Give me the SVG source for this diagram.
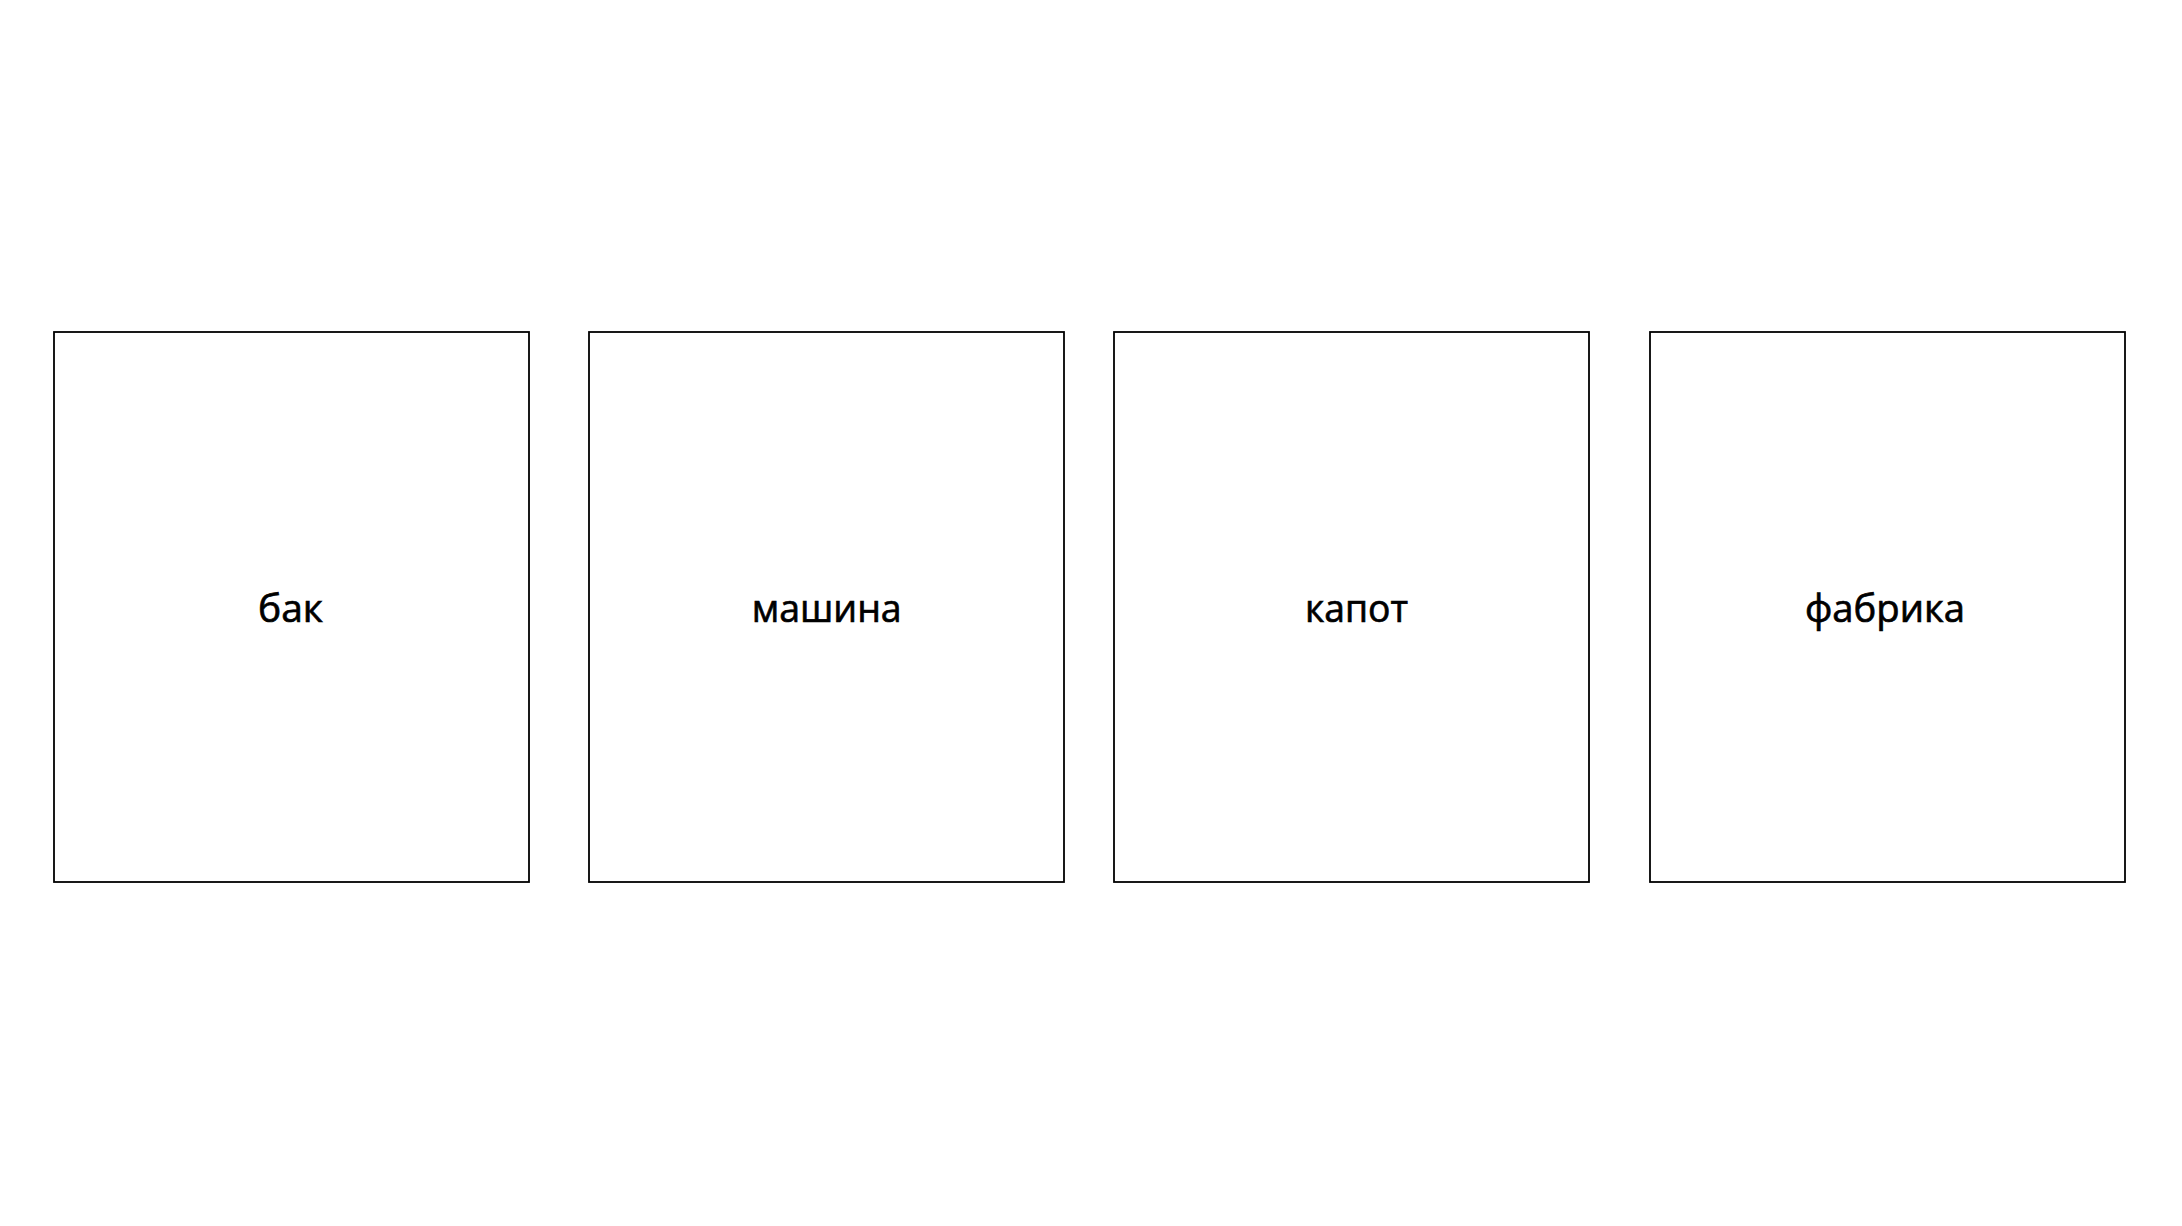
<svg xmlns="http://www.w3.org/2000/svg" width="2182" height="1226" viewBox="0 0 2182 1226">
  <style>
    .box { fill: #ffffff; stroke: #000000; stroke-width: 1.8; }
    .lbl { font-family: "Open Sans", "Noto Sans", "DejaVu Sans", sans-serif; font-size: 39px; fill: #000000; stroke: #000000; stroke-width: 0.7; text-anchor: middle; }
  </style>
  <rect x="0" y="0" width="2182" height="1226" fill="#ffffff"/>
  <g id="connectors"></g>
  <g id="node-bak">
    <rect class="box" x="54" y="332" width="475" height="550"/>
    <text class="lbl" x="290.5" y="622" textLength="65" lengthAdjust="spacingAndGlyphs">бак</text>
  </g>
  <g id="node-mashina">
    <rect class="box" x="589" y="332" width="475" height="550"/>
    <text class="lbl" x="826.7" y="622" textLength="150" lengthAdjust="spacingAndGlyphs">машина</text>
  </g>
  <g id="node-kapot">
    <rect class="box" x="1114" y="332" width="475" height="550"/>
    <text class="lbl" x="1356.5" y="622" textLength="103" lengthAdjust="spacingAndGlyphs">капот</text>
  </g>
  <g id="node-fabrika">
    <rect class="box" x="1650" y="332" width="475" height="550"/>
    <text class="lbl" x="1885" y="622" textLength="160" lengthAdjust="spacingAndGlyphs">фабрика</text>
  </g>
</svg>
